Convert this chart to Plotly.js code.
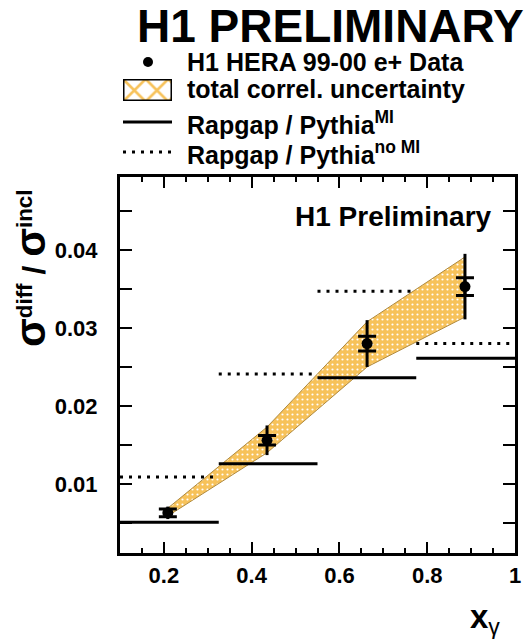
<!DOCTYPE html>
<html>
<head>
<meta charset="utf-8">
<script src="https://cdn.plot.ly/plotly-3.0.1.min.js"></script>
<style>html,body{margin:0;padding:0;background:#fff;}#chart{width:529px;height:639px;}</style>
</head>
<body>
<div id="chart"></div>
<script>
// ---- data ----
var dataX = [0.209, 0.435, 0.663, 0.886];
var dataY = [0.0063, 0.0156, 0.0280, 0.0353];
var statErr = [0.0005, 0.0006, 0.00095, 0.00115];
var totErr = [0.0008, 0.0019, 0.0030, 0.0042];

var bandX = [0.209, 0.435, 0.663, 0.886];
var bandUp = [0.0069, 0.0173, 0.0308, 0.0391];
var bandLo = [0.0059, 0.0140, 0.0250, 0.0314];

var binEdges = [0.1, 0.325, 0.55, 0.775, 1.0];
var mcMI = [0.0051, 0.0126, 0.0236, 0.0261];
var mcNoMI = [0.0109, 0.0241, 0.0347, 0.0280];

var legendLabels = ["H1 HERA 99-00 e+ Data", "total correl. uncertainty",
  "Rapgap / Pythia<sup>MI</sup>", "Rapgap / Pythia<sup>no MI</sup>"];

// ---- geometry helpers (pixel -> paper) ----
var W = 529, H = 639, mL = 120, mR = 14, mT = 10, mB = 86;
var pw = W - mL - mR, ph = H - mT - mB;
function px(x) { return (x - mL) / pw; }
function py(y) { return (H - mB - y) / ph; }

var FONT = "Liberation Sans, Arial, Helvetica, sans-serif";
var ORANGE = "#f7c25a";

function segs(edges, vals) {
  var xs = [], ys = [];
  for (var i = 0; i < vals.length; i++) {
    xs.push(edges[i], edges[i + 1], null);
    ys.push(vals[i], vals[i], null);
  }
  return {x: xs, y: ys};
}

var band = {
  x: bandX.concat(bandX.slice().reverse()).concat([bandX[0]]),
  y: bandUp.concat(bandLo.slice().reverse()).concat([bandUp[0]]),
  mode: "lines", fill: "toself", fillcolor: ORANGE,
  fillpattern: {shape: ".", bgcolor: ORANGE, fgcolor: "#ffffff", size: 5, solidity: 0.15},
  line: {color: "#b08a3e", width: 1}, hoverinfo: "skip", showlegend: false
};

var s1 = segs(binEdges, mcMI);
var mi = {x: s1.x, y: s1.y, mode: "lines", line: {color: "#000", width: 3}, showlegend: false};
var s2 = segs(binEdges, mcNoMI);
var nomi = {x: s2.x, y: s2.y, mode: "lines", line: {color: "#000", width: 3, dash: "3px,6px"}, showlegend: false};

var tot = {x: dataX, y: dataY, mode: "markers", marker: {size: 1, color: "#000"},
  error_y: {type: "data", array: totErr, visible: true, color: "#000", thickness: 3, width: 0},
  showlegend: false};
var stat = {x: dataX, y: dataY, mode: "markers", marker: {size: 11, color: "#000"},
  error_y: {type: "data", array: statErr, visible: true, color: "#000", thickness: 3, width: 9},
  showlegend: false};

// legend hatched box on a tiny helper axis
var legBox = {x: [0, 1, 1, 0, 0], y: [0, 0, 1, 1, 0], xaxis: "x2", yaxis: "y2",
  mode: "lines", fill: "toself", fillcolor: "#ffffff",
  fillpattern: {shape: "x", bgcolor: "#ffffff", fgcolor: ORANGE, size: 16, solidity: 0.3},
  line: {color: "#000", width: 3}, hoverinfo: "skip", showlegend: false};

var legY = [62, 89, 123, 153];
var annotations = [];
for (var i = 0; i < legendLabels.length; i++) {
  annotations.push({xref: "paper", yref: "paper", x: px(185), y: py(legY[i]),
    xanchor: "left", yanchor: "middle", showarrow: false, text: legendLabels[i],
    font: {family: FONT, size: 25, color: "#000", weight: "bold"}});
}
annotations.push({xref: "paper", yref: "paper", x: px(293), y: py(216), xanchor: "left", yanchor: "middle",
  showarrow: false, text: "H1 Preliminary", font: {family: FONT, size: 28, color: "#000", weight: "bold"}});
annotations.push({xref: "paper", yref: "paper", x: px(30), y: py(268), xanchor: "center", yanchor: "middle",
  textangle: -90, showarrow: false,
  text: "<span style='font-size:42px'>σ</span><sup>diff</sup> / <span style='font-size:42px'>σ</span><sup>incl</sup>",
  font: {family: FONT, size: 32, color: "#000", weight: "bold"}});
annotations.push({xref: "paper", yref: "paper", x: px(468), y: py(619), xanchor: "left", yanchor: "middle",
  showarrow: false, text: "x<sub><span style='font-weight:normal'>γ</span></sub>",
  font: {family: FONT, size: 33, color: "#000", weight: "bold"}});

var shapes = [
  {type: "circle", xref: "paper", yref: "paper", x0: px(143), x1: px(153), y0: py(67), y1: py(57),
   fillcolor: "#000", line: {color: "#000", width: 0}},
  {type: "line", xref: "paper", yref: "paper", x0: px(123), x1: px(172), y0: py(122), y1: py(122),
   line: {color: "#000", width: 3}},
  {type: "line", xref: "paper", yref: "paper", x0: px(123), x1: px(172), y0: py(152), y1: py(152),
   line: {color: "#000", width: 3, dash: "3px,6px"}}
];

var layout = {
  width: W, height: H, margin: {l: mL, r: mR, t: mT, b: mB},
  paper_bgcolor: "#fff", plot_bgcolor: "#fff", showlegend: false,
  title: {text: "H1 PRELIMINARY", xref: "container", yref: "container",
    x: 137 / W, xanchor: "left", y: 1 - 26 / H, yanchor: "middle",
    font: {family: FONT, size: 46, color: "#000", weight: "bold"}},
  xaxis: {range: [0.1, 1.0], domain: [0, 1], tickmode: "linear", tick0: 0, dtick: 0.2,
    ticks: "inside", ticklen: 11, tickwidth: 2, tickcolor: "#000",
    showline: true, linewidth: 3, linecolor: "#000", mirror: "allticks",
    showgrid: false, zeroline: false,
    minor: {dtick: 0.05, tick0: 0, ticks: "inside", ticklen: 5, tickwidth: 2, tickcolor: "#000", showgrid: false},
    tickfont: {family: FONT, size: 22, color: "#000", weight: "bold"}, ticklabelstandoff: 1},
  yaxis: {range: [0.00115, 0.04935], domain: [0, (H - mB - 177) / ph], tickmode: "linear", tick0: 0, dtick: 0.01,
    ticks: "inside", ticklen: 12, tickwidth: 2, tickcolor: "#000",
    showline: true, linewidth: 3, linecolor: "#000", mirror: "allticks",
    showgrid: false, zeroline: false,
    minor: {dtick: 0.005, tick0: 0, ticks: "inside", ticklen: 12, tickwidth: 2, tickcolor: "#000", showgrid: false},
    tickfont: {family: FONT, size: 22, color: "#000", weight: "bold"}, ticklabelstandoff: 15},
  xaxis2: {domain: [px(123), px(172)], range: [0, 1], anchor: "y2", visible: false, fixedrange: true},
  yaxis2: {domain: [py(101), py(79)], range: [0, 1], anchor: "x2", visible: false, fixedrange: true},
  annotations: annotations, shapes: shapes
};

Plotly.newPlot("chart", [band, mi, nomi, tot, stat, legBox], layout, {displayModeBar: false, staticPlot: true});
</script>
</body>
</html>
